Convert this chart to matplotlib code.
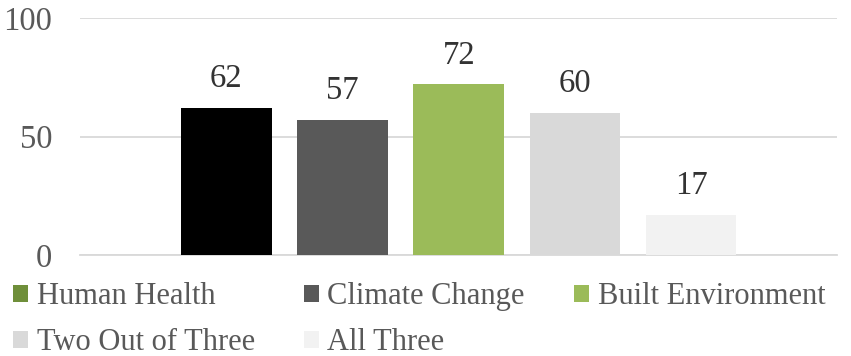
#import packages
import matplotlib
matplotlib.use('Agg')
import matplotlib.pyplot as plt
from matplotlib.patches import Patch

#chart data
series = ['Human Health', 'Climate Change', 'Built Environment', 'Two Out of Three', 'All Three']
values = [62, 57, 72, 60, 17]
bar_colors = ['#000000', '#595959', '#9bbb59', '#d9d9d9', '#f2f2f2']
legend_colors = ['#6f8f3a', '#595959', '#9bbb59', '#d9d9d9', '#f2f2f2']
yticks = [0, 50, 100]

plt.rcParams['font.family'] = ['Liberation Serif', 'DejaVu Serif']
fs = 23.5

fig = plt.figure(figsize=(8.51, 3.56), dpi=100)
ax = fig.add_axes([0.094, 0.2837, 0.89, 0.6653])

#one bar per series
pos = list(range(len(series)))
bars = ax.bar(pos, values, width=0.78, color=bar_colors, zorder=3)
for p, v in zip(pos, values):
    ax.annotate(str(v), (p, v), xytext=(0, 10), textcoords='offset points',
                ha='center', va='bottom', fontsize=fs, color='#333333')

ax.set_xlim(-1.26, 5.26)
ax.set_ylim(0, 100)
ax.set_yticks(yticks)
ax.set_xticks([])
ax.tick_params(axis='y', length=0, pad=20, labelsize=fs, labelcolor='#595959')
ax.yaxis.grid(True, color='#d9d9d9', linewidth=1.3, zorder=0)
for s in ['top', 'right', 'left']:
    ax.spines[s].set_visible(False)
ax.spines['bottom'].set_color('#d9d9d9')
ax.spines['bottom'].set_linewidth(1.3)

#legend, row-wise order across 3 columns
order = [0, 3, 1, 4, 2]
handles = [Patch(facecolor=legend_colors[i], edgecolor='none') for i in order]
labels = [series[i] for i in order]
fig.legend(handles, labels, ncol=3, loc='upper left', bbox_to_anchor=(0.015, 0.207),
           frameon=False, fontsize=22, labelcolor='#595959',
           handlelength=0.5, handleheight=0.5, handletextpad=0.28,
           columnspacing=1.6, labelspacing=0.55, borderaxespad=0.0, borderpad=0.0)

plt.savefig('out.png', dpi=100)
